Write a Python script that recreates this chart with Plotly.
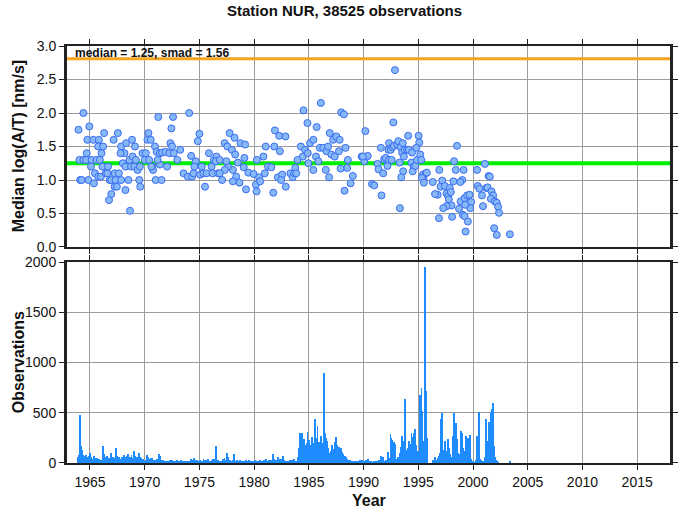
import plotly.graph_objects as go

title_text = "Station NUR, 38525 observations"
median_val = 1.25
smad_val = 1.56
x_range = [1962.9, 2018.0]
year_ticks = [1965, 1970, 1975, 1980, 1985, 1990, 1995, 2000, 2005, 2010, 2015]
top_ticks = [0.0, 0.5, 1.0, 1.5, 2.0, 2.5, 3.0]
bottom_ticks = [0, 500, 1000, 1500, 2000]

med_year = [
    1964.40, 1963.95, 1964.94, 1964.76, 1965.30, 1965.81, 1966.29, 1967.55, 1967.16, 1965.75,
    1966.20, 1964.70, 1966.05, 1964.04, 1964.40, 1964.64, 1965.15, 1965.60, 1965.90, 1965.09,
    1965.45, 1965.75, 1965.99, 1966.44, 1966.59, 1966.14, 1966.65, 1964.10, 1964.25, 1964.85,
    1965.36, 1966.80, 1966.95, 1967.34, 1967.25, 1967.46, 1966.95, 1966.74, 1967.85, 1968.15,
    1967.79, 1968.30, 1968.84, 1969.11, 1968.00, 1968.24, 1968.60, 1968.90, 1969.20, 1968.75,
    1969.05, 1969.35, 1969.56, 1969.80, 1970.10, 1970.01, 1970.40, 1967.25, 1967.64, 1967.85,
    1968.51, 1969.50, 1969.59, 1968.24, 1968.66, 1970.34, 1970.25, 1970.55, 1970.94, 1971.09,
    1971.39, 1971.60, 1971.90, 1972.26, 1972.65, 1972.35, 1972.50, 1972.98, 1973.25, 1971.24,
    1972.59, 1972.44, 1974.06, 1970.70, 1970.76, 1970.61, 1971.39, 1972.05, 1971.18, 1971.00,
    1971.54, 1973.55, 1973.94, 1974.33, 1974.45, 1974.24, 1974.66, 1974.54, 1975.00, 1974.85,
    1975.21, 1975.06, 1975.36, 1975.66, 1975.51, 1975.87, 1976.11, 1976.32, 1976.56, 1976.20,
    1976.71, 1976.50,
    1976.86, 1977.31, 1977.55, 1977.76, 1977.97, 1978.21, 1978.27, 1978.75, 1979.17, 1978.51,
    1979.11, 1979.05, 1979.47, 1979.95, 1980.25, 1980.46, 1980.16, 1980.22, 1980.55, 1979.26,
    1978.66, 1978.36, 1978.06, 1978.06, 1977.61, 1977.46, 1977.31, 1977.07, 1976.86, 1981.06,
    1980.85, 1980.97, 1981.27, 1981.57, 1981.84, 1981.90, 1982.29, 1982.35, 1982.86, 1981.75,
    1982.17, 1982.56, 1982.47, 1982.89, 1983.31, 1983.52, 1983.67, 1983.76, 1983.85, 1983.97,
    1984.27, 1984.51, 1984.87, 1984.45, 1984.66, 1984.90, 1985.11, 1985.41, 1984.96, 1985.41,
    1985.71, 1986.10, 1985.65, 1985.86, 1986.01, 1986.31, 1986.61, 1986.76, 1986.91, 1987.06,
    1987.21, 1987.36, 1987.51, 1987.81, 1987.75, 1987.96, 1988.20, 1988.35, 1988.56, 1988.50,
    1987.90, 1986.55, 1986.85, 1989.02, 1988.81, 1988.26, 1989.83, 1990.07, 1990.16, 1990.28,
    1992.87, 1992.72, 1990.38, 1989.93, 1991.58, 1991.28, 1991.37, 1991.79, 1991.88, 1992.03,
    1992.18, 1992.33, 1992.33, 1992.27, 1992.48, 1992.63, 1992.57, 1992.78, 1993.08, 1993.17,
    1993.38, 1993.59, 1993.53, 1993.77, 1993.68, 1993.98, 1994.13, 1994.43, 1994.07, 1994.37,
    1994.58, 1994.49, 1994.73, 1994.88, 1995.03, 1995.09, 1995.18, 1995.27, 1994.82, 1993.29,
    1993.62, 1993.44, 1990.77, 1990.98, 1991.64, 1993.32, 1995.42, 1995.48, 1995.69, 1995.78,
    1995.33, 1995.51, 1996.32, 1996.92, 1997.19, 1997.04, 1996.77, 1996.53, 1997.43, 1997.58,
    1997.73, 1997.88, 1997.97, 1997.79, 1998.03, 1997.58, 1997.28, 1996.89, 1998.09, 1998.27,
    1998.42, 1998.54, 1999.02, 1998.84, 1999.14, 1998.21, 1998.87, 1998.72, 1999.23, 1999.47,
    1999.68, 1999.83, 1999.74, 1999.29, 1999.08, 1999.23, 1999.53, 1999.32, 2000.37, 2001.09,
    2001.42, 2001.54, 2000.43, 2000.58, 2000.82, 2000.91, 2001.21, 2001.33, 2001.69, 2001.84,
    2001.63, 2001.99, 2002.17, 2002.29, 2002.38, 2001.93, 2002.17, 2003.37,
]
med_value = [
    2.00, 1.75, 1.80, 1.60, 1.60, 1.60, 1.70, 1.70, 1.60, 1.50,
    1.50, 1.40, 1.40, 1.30, 1.30, 1.30, 1.30, 1.30, 1.30, 1.20,
    1.10, 1.05, 1.05, 1.10, 1.10, 1.20, 1.20, 1.00, 1.00, 1.00,
    0.95, 1.00, 1.00, 1.00, 0.90, 0.90, 0.79, 0.70, 1.50, 1.40,
    1.40, 1.55, 1.60, 1.50, 1.25, 1.20, 1.30, 1.35, 1.30, 1.20,
    1.20, 1.15, 1.20, 1.40, 1.40, 1.30, 1.30, 1.10, 1.10, 1.00,
    1.00, 1.00, 0.90, 0.85, 0.54, 1.70, 1.60, 1.60, 1.50, 1.42,
    1.40, 1.41, 1.42, 1.40, 1.40, 1.55, 1.50, 1.30, 1.45, 1.94,
    1.94, 1.77, 2.00, 1.20, 1.15, 1.20, 1.23, 1.20, 1.30, 1.00,
    1.00, 1.10, 1.05, 1.05, 1.10, 1.36, 1.28, 1.20, 1.69, 1.58,
    1.20, 1.08, 1.10, 1.10, 0.90, 1.40, 1.20, 1.30, 1.35, 1.10,
    1.10, 1.28,
    1.30, 1.55, 1.50, 1.70, 1.45, 1.63, 1.38, 1.55, 1.53, 1.26,
    1.33, 1.19, 1.11, 1.09, 1.30, 1.04, 0.93, 0.83, 0.98, 0.86,
    0.96, 1.05, 0.98, 1.15, 1.20, 1.28, 1.15, 1.00, 1.10, 1.50,
    1.35, 1.10, 1.20, 1.19, 1.50, 1.74, 1.66, 1.43, 1.65, 0.81,
    1.04, 1.08, 1.00, 0.90, 1.10, 1.04, 1.10, 1.18, 1.10, 1.30,
    1.50, 2.04, 1.85, 1.35, 1.45, 1.40, 1.55, 1.60, 1.25, 1.15,
    1.79, 2.15, 1.35, 1.28, 1.48, 1.48, 1.43, 1.50, 1.70, 1.38,
    1.60, 1.35, 1.65, 1.60, 1.43, 2.01, 1.98, 1.48, 1.30, 1.18,
    1.17, 1.15, 1.04, 1.06, 0.95, 0.84, 1.35, 1.28, 1.73, 1.35,
    2.64, 1.86, 1.36, 1.35, 1.48, 1.24, 1.16, 1.10, 1.31, 1.33,
    1.21, 1.30, 1.55, 1.45, 1.45, 1.49, 1.30, 1.51, 1.53, 1.58,
    1.49, 1.55, 1.41, 1.45, 1.35, 1.45, 1.45, 1.41, 1.66, 1.26,
    1.20, 1.13, 1.21, 1.30, 1.66, 1.56, 1.38, 1.30, 1.48, 1.26,
    1.13, 1.04, 0.94, 0.92, 0.77, 0.58, 1.08, 1.01, 1.10, 1.11,
    1.03, 0.96, 0.97, 1.15, 0.99, 0.90, 0.78, 0.79, 0.91, 0.80,
    0.76, 0.88, 0.82, 0.71, 0.62, 0.61, 0.58, 0.43, 0.45, 1.28,
    1.15, 1.51, 1.00, 0.97, 1.15, 0.98, 0.68, 0.57, 0.73, 0.77,
    0.78, 0.67, 0.58, 0.63, 0.48, 0.46, 0.38, 0.23, 1.15, 1.24,
    1.06, 1.05, 0.91, 0.87, 0.77, 0.61, 0.88, 0.89, 0.83, 0.77,
    0.72, 0.68, 0.66, 0.60, 0.51, 0.28, 0.18, 0.19,
]

count_start_year = 1963
monthly_counts = [
    0, 0, 0, 0, 0, 0, 0, 0, 0, 0, 60, 80,                      # 1963
    90, 480, 170, 130, 80, 70, 60, 75, 60, 40, 70, 50,         # 1964
    100, 60, 40, 30, 70, 50, 25, 45, 20, 35, 15, 30,           # 1965
    20, 30, 170, 90, 60, 40, 70, 30, 45, 20, 60, 100,          # 1966
    35, 60, 25, 50, 145, 70, 30, 55, 20, 40, 25, 60,           # 1967
    40, 80, 55, 30, 70, 90, 45, 60, 30, 80, 50, 40,            # 1968
    115, 70, 50, 60, 40, 100, 60, 45, 30, 25, 40, 20,          # 1969
    15, 30, 84, 60, 40, 30, 50, 25, 45, 20, 30, 15,            # 1970
    25, 40, 30, 85, 70, 30, 20, 15, 25, 10, 20, 10,            # 1971
    10, 20, 15, 25, 10, 30, 15, 10, 20, 10, 15, 25,            # 1972
    10, 15, 10, 30, 20, 10, 5, 10, 20, 15, 10, 5,              # 1973
    20, 15, 40, 30, 10, 20, 45, 25, 10, 30, 15, 20,            # 1974
    30, 10, 20, 15, 35, 10, 25, 15, 30, 40, 15, 10,            # 1975
    20, 30, 40, 15, 25, 35, 165, 20, 30, 10, 20, 15,           # 1976
    10, 40, 25, 50, 30, 20, 100, 60, 25, 30, 10, 20,           # 1977
    30, 85, 20, 10, 15, 30, 20, 10, 25, 15, 10, 20,            # 1978
    15, 10, 20, 30, 10, 15, 25, 10, 5, 20, 10, 15,             # 1979
    10, 30, 15, 20, 10, 5, 25, 15, 10, 20, 30, 10,             # 1980
    20, 40, 15, 10, 25, 10, 30, 15, 90, 40, 20, 30,            # 1981
    15, 20, 60, 35, 25, 40, 15, 70, 30, 20, 15, 10,            # 1982
    20, 15, 10, 30, 15, 25, 10, 40, 20, 15, 10, 30,            # 1983
    60, 150, 300, 180, 295, 120, 240, 180, 140, 200, 310, 160, # 1984
    230, 180, 120, 260, 200, 170, 440, 250, 120, 370, 180, 210,# 1985
    150, 270, 200, 160, 895, 300, 250, 215, 150, 110, 100, 90, # 1986
    120, 180, 100, 140, 210, 255, 180, 130, 100, 155, 120, 150,# 1987
    110, 90, 60, 70, 55, 40, 30, 20, 15, 25, 10, 5,            # 1988
    10, 5, 15, 10, 5, 20, 10, 5, 25, 15, 30, 10,               # 1989
    5, 10, 30, 15, 40, 10, 5, 0, 10, 0, 5, 15,                 # 1990
    10, 5, 20, 15, 25, 10, 30, 65, 60, 55, 20, 15,             # 1991
    30, 15, 105, 50, 20, 290, 250, 230, 210, 205, 190, 40,     # 1992
    20, 60, 30, 100, 50, 155, 270, 215, 120, 640, 130, 60,     # 1993
    150, 220, 190, 100, 300, 260, 230, 300, 340, 180, 40, 120, # 1994
    90, 680, 200, 745, 520, 215, 120, 1950, 720, 250, 0, 0,    # 1995
    0, 0, 0, 0, 25, 10, 60, 15, 30, 50, 70, 100,               # 1996
    440, 500, 170, 130, 90, 215, 100, 120, 240, 150, 90, 60,   # 1997
    60, 100, 265, 500, 180, 400, 240, 100, 90, 60, 315, 300,   # 1998
    90, 150, 60, 120, 270, 180, 250, 200, 280, 40, 10, 20,     # 1999
    10, 0, 5, 30, 270, 100, 510, 40, 30, 20, 0, 10,            # 2000
    20, 60, 440, 100, 215, 410, 300, 510, 535, 600, 260, 165,  # 2001
    60, 30, 10, 5, 0, 0, 0, 0, 0, 0, 0, 0,                     # 2002
    0, 0, 0, 0, 15, 0, 0, 0, 0, 0, 0, 0,                       # 2003
]

bar_x = [count_start_year + (i + 0.5) / 12 for i in range(len(monthly_counts))]
upper_val = median_val + smad_val

FONT = "Liberation Sans, Arial, Helvetica, sans-serif"
grid_c = "#9c9c9c"

fig = go.Figure()

# reference lines (top panel)
fig.add_trace(go.Scatter(x=x_range, y=[upper_val, upper_val], mode="lines",
                         line=dict(color="#f7a420", width=3), xaxis="x", yaxis="y",
                         hoverinfo="skip", showlegend=False))
fig.add_trace(go.Scatter(x=x_range, y=[median_val, median_val], mode="lines",
                         line=dict(color="#00ee00", width=4), xaxis="x", yaxis="y",
                         hoverinfo="skip", showlegend=False))
fig.add_trace(go.Scatter(x=med_year, y=med_value, mode="markers",
                         marker=dict(size=7, color="#86b8f6",
                                     line=dict(color="#3a6cf2", width=1)),
                         xaxis="x", yaxis="y", showlegend=False))

fig.add_trace(go.Bar(x=bar_x, y=monthly_counts, width=1 / 12,
                     marker=dict(color="#1e8cff", line=dict(width=0)),
                     xaxis="x2", yaxis="y2", showlegend=False))

axis_common = dict(showline=True, linecolor="#222222", mirror="allticks",
                   ticks="outside", ticklen=5, tickcolor="#222222", tickwidth=1,
                   showgrid=True, gridcolor=grid_c, gridwidth=1, zeroline=False,
                   tickfont=dict(family=FONT, size=14, color="#111111"))

fig.update_layout(
    width=685, height=511,
    margin=dict(l=67, r=7, t=46, b=48),
    paper_bgcolor="white", plot_bgcolor="white",
    bargap=0,
    xaxis=dict(domain=[0, 1], anchor="y", range=x_range, tickvals=year_ticks,
               showticklabels=False, linewidth=2, **axis_common),
    yaxis=dict(domain=[0.518, 1], anchor="x", range=[0, 3], tickvals=top_ticks,
               ticktext=[f"{v:.1f}" for v in top_ticks], linewidth=3, **axis_common),
    xaxis2=dict(domain=[0, 1], anchor="y2", range=x_range, tickvals=year_ticks,
                linewidth=2, **axis_common),
    yaxis2=dict(domain=[0, 0.482], anchor="x2", range=[0, 2000], tickvals=bottom_ticks,
                linewidth=3, **axis_common),
    annotations=[
        dict(text=title_text, xref="paper", yref="paper", x=0.461, y=1.085,
             xanchor="center", yanchor="middle", showarrow=False,
             font=dict(family=FONT, size=15, color="#111111", weight="bold")),
        dict(text=f"median = {median_val:.2f}, smad = {smad_val:.2f}", xref="paper", yref="y",
             x=0.01, y=upper_val, xanchor="left", yanchor="bottom", yshift=-3, showarrow=False,
             font=dict(family=FONT, size=12, color="#111111", weight="bold")),
        dict(text="Median log(A/T) [nm/s]", xref="paper", yref="paper", x=-0.08, y=0.759,
             xanchor="center", yanchor="middle", textangle=-90, showarrow=False,
             font=dict(family=FONT, size=16, color="#111111", weight="bold")),
        dict(text="Observations", xref="paper", yref="paper", x=-0.08, y=0.241,
             xanchor="center", yanchor="middle", textangle=-90, showarrow=False,
             font=dict(family=FONT, size=16, color="#111111", weight="bold")),
        dict(text="Year", xref="paper", yref="paper", x=0.5, y=-0.089,
             xanchor="center", yanchor="middle", showarrow=False,
             font=dict(family=FONT, size=16, color="#111111", weight="bold")),
    ],
)

fig.write_html("out.html", config={"displayModeBar": False},
               post_script="document.body.style.margin='0';")
